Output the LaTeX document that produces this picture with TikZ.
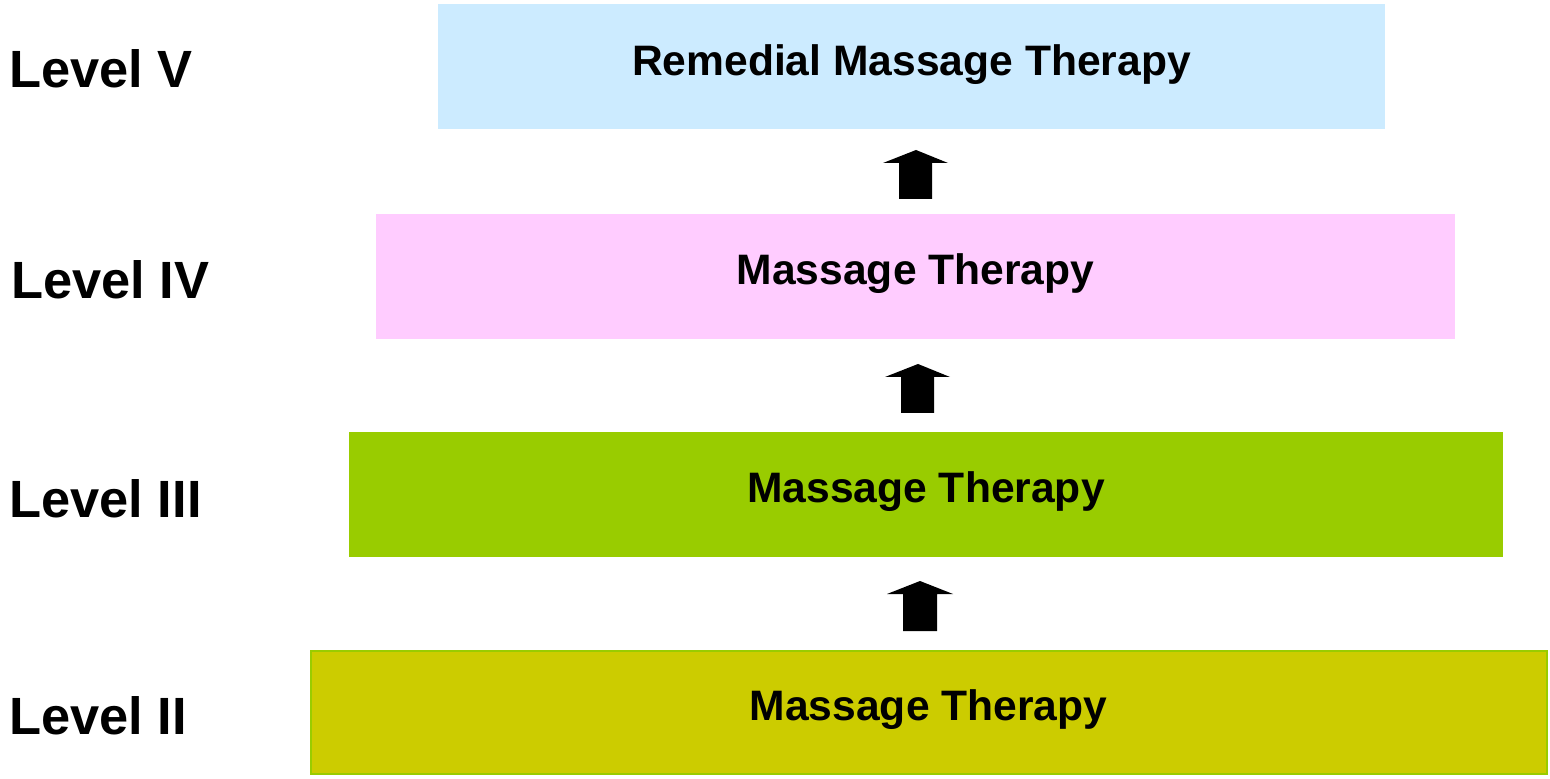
\documentclass[tikz,border=0pt]{standalone}
\usepackage{fontspec}
\setmainfont{Liberation Sans}
\begin{document}
\begin{tikzpicture}[x=0.5pt,y=-0.5pt,
  lvbox/.style={inner sep=0pt,font=\fontsize{21.3}{25}\selectfont\bfseries},
  lvlabel/.style={anchor=west,inner sep=0pt,font=\fontsize{26.2}{31}\selectfont\bfseries},
  blockarrow/.style={fill=black}]
\definecolor{cblue}{HTML}{CCEBFF}
\definecolor{cpink}{HTML}{FFCCFF}
\definecolor{cgreen}{HTML}{99CC00}
\definecolor{colive}{HTML}{CCCC00}
\useasboundingbox (0,0) rectangle (1550,779);
% boxes
\fill[cblue] (438,4) rectangle (1385,129);
\fill[cpink] (376,214) rectangle (1455,339);
\fill[cgreen] (349,432) rectangle (1503,557);
\filldraw[fill=colive,draw=cgreen,line width=1pt] (310.5,650.5) rectangle (1546.5,773.5);
% box texts
\node[lvbox] (t5) at (911.5,65) {Remedial Massage Therapy};
\node[lvbox] (t4) at (915.5,274) {Massage Therapy};
\node[lvbox] (t3) at (926,492) {Massage Therapy};
\node[lvbox] (t2) at (928.5,710) {Massage Therapy};
% labels
\node[lvlabel] (l5) at (9,69) {Level V};
\node[lvlabel] (l4) at (11,280) {Level IV};
\node[lvlabel] (l3) at (9,499) {Level III};
\node[lvlabel] (l2) at (9,716) {Level II};
% block arrows
\fill[blockarrow] (916,150) -- (948,163) -- (932,163) -- (932,199) -- (899,199) -- (899,163) -- (883,163) -- cycle;
\fill[blockarrow] (918,364) -- (950,377) -- (934,377) -- (934,413) -- (901,413) -- (901,377) -- (885,377) -- cycle;
\fill[blockarrow] (920,581) -- (953,594) -- (937,594) -- (937,631) -- (903,631) -- (903,594) -- (887,594) -- cycle;
\end{tikzpicture}
\end{document}
